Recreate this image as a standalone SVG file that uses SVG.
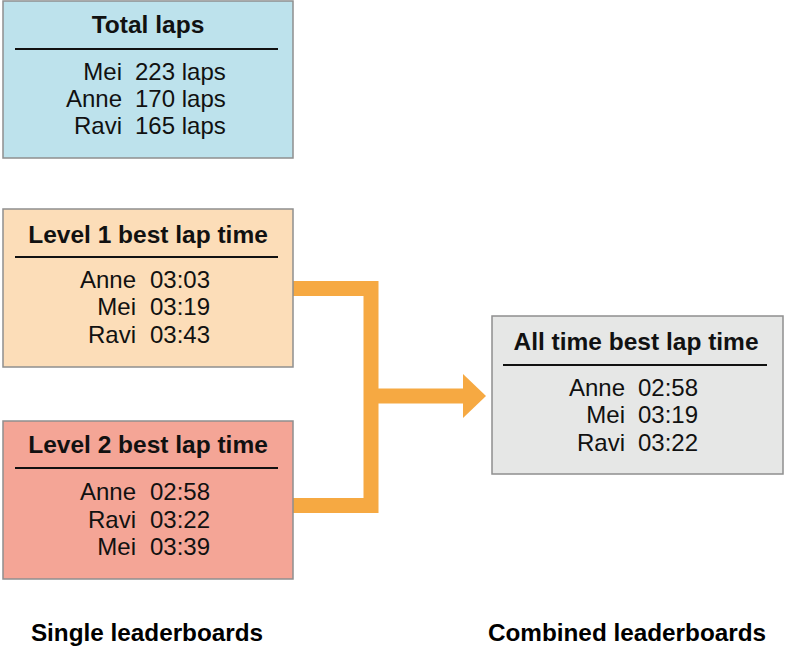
<svg xmlns="http://www.w3.org/2000/svg" width="785" height="647" viewBox="0 0 785 647">
<style>
.box{stroke:#8f8f8f;stroke-width:1.5}
.title{font-family:"Liberation Sans",Arial,sans-serif;font-weight:bold;font-size:24.5px;fill:#111;text-anchor:middle}
.rule{stroke:#111;stroke-width:2}
.name{font-family:"Liberation Sans",Arial,sans-serif;font-size:24px;fill:#111;text-anchor:end}
.val{font-family:"Liberation Sans",Arial,sans-serif;font-size:24px;fill:#111;text-anchor:start}
.cap{font-family:"Liberation Sans",Arial,sans-serif;font-weight:bold;font-size:24.3px;fill:#000;text-anchor:middle}
.conn{fill:none;stroke:#F6A942;stroke-width:15;stroke-linejoin:miter}
</style>
<rect width="785" height="647" fill="#fff"/>
<g id="connectors">
<path class="conn" d="M293,288.5 H371 V505.5 H293"/>
<path class="conn" d="M371,396 H466"/>
<polygon points="463,374 486,396 463,418" fill="#F6A942"/>
</g>
<g id="total-laps">
<rect class="box" x="3" y="1" width="290" height="157" fill="#BDE2EC"/>
<text class="title" x="148" y="33">Total laps</text>
<line class="rule" x1="15" y1="49" x2="278" y2="49"/>
<text class="name" x="122" y="80">Mei</text><text class="val" x="135" y="80">223 laps</text>
<text class="name" x="122" y="107">Anne</text><text class="val" x="135" y="107">170 laps</text>
<text class="name" x="122" y="134">Ravi</text><text class="val" x="135" y="134">165 laps</text>
</g>
<g id="level1">
<rect class="box" x="3" y="209" width="290" height="158" fill="#FCDDB8"/>
<text class="title" x="148" y="243">Level 1 best lap time</text>
<line class="rule" x1="15" y1="257" x2="278" y2="257"/>
<text class="name" x="136" y="288">Anne</text><text class="val" x="150" y="288">03:03</text>
<text class="name" x="136" y="315">Mei</text><text class="val" x="150" y="315">03:19</text>
<text class="name" x="136" y="343">Ravi</text><text class="val" x="150" y="343">03:43</text>
</g>
<g id="level2">
<rect class="box" x="3" y="421" width="290" height="158" fill="#F4A596"/>
<text class="title" x="148" y="453">Level 2 best lap time</text>
<line class="rule" x1="15" y1="468" x2="278" y2="468"/>
<text class="name" x="136" y="500">Anne</text><text class="val" x="150" y="500">02:58</text>
<text class="name" x="136" y="528">Ravi</text><text class="val" x="150" y="528">03:22</text>
<text class="name" x="136" y="555">Mei</text><text class="val" x="150" y="555">03:39</text>
</g>
<g id="all-time">
<rect class="box" x="492" y="316" width="291" height="158" fill="#E6E7E6"/>
<text class="title" x="636" y="350">All time best lap time</text>
<line class="rule" x1="503" y1="365" x2="767" y2="365"/>
<text class="name" x="625" y="396">Anne</text><text class="val" x="638" y="396">02:58</text>
<text class="name" x="625" y="423">Mei</text><text class="val" x="638" y="423">03:19</text>
<text class="name" x="625" y="451">Ravi</text><text class="val" x="638" y="451">03:22</text>
</g>
<g id="captions">
<text class="cap" x="147" y="641">Single leaderboards</text>
<text class="cap" x="627" y="641">Combined leaderboards</text>
</g>
</svg>
